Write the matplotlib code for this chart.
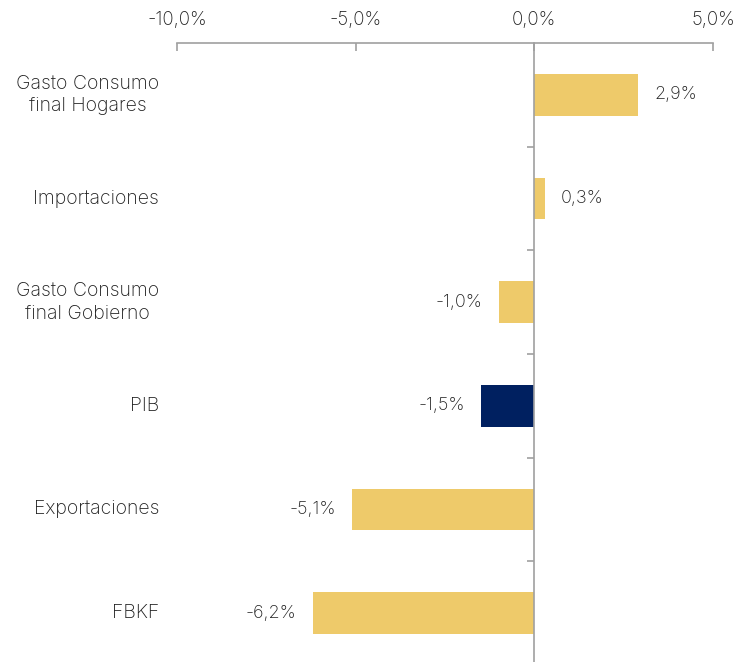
import matplotlib.pyplot as plt
import matplotlib.transforms as mtransforms
import numpy as np

# Data (top to bottom)
categories = ['Gasto Consumo\nfinal Hogares', 'Importaciones', 'Gasto Consumo\nfinal Gobierno',
              'PIB', 'Exportaciones', 'FBKF']
values = [2.9, 0.3, -1.0, -1.5, -5.1, -6.2]
highlight = 'PIB'
x_ticks = [-10, -5, 0, 5]

plt.rcParams['font.family'] = ['Inter', 'DejaVu Sans']
plt.rcParams['font.weight'] = 'light'
text_color = '#1f1f1f'
axis_color = '#a0a0a0'
yellow = '#EECA6A'
navy = '#002060'

fig = plt.figure(figsize=(7.37, 6.62), dpi=100)
ax = fig.add_axes([177 / 737, -3 / 662, 536 / 737, 622 / 662])

y = np.arange(len(categories))
colors = [navy if c == highlight else yellow for c in categories]
ax.barh(y, values, height=0.4, color=colors)

ax.set_xlim(-10, 5)
ax.set_ylim(len(categories) - 0.5, -0.5)

# value labels
for yi, v in zip(y, values):
    label = f'{v:.1f}%'.replace('.', ',')
    offset = 0.45 if v >= 0 else -0.45
    ax.text(v + offset, yi, label, ha='left' if v >= 0 else 'right', va='center',
            fontsize=13, color=text_color)

# category labels
trans = mtransforms.blended_transform_factory(ax.transAxes, ax.transData)
for yi, cat in zip(y, categories):
    ax.text(-18 / 536, yi, cat, transform=trans, ha='right', va='center',
            fontsize=14, color=text_color, multialignment='center', linespacing=1.35)

# top x axis
ax.xaxis.tick_top()
ax.set_xticks(x_ticks)
ax.set_xticklabels([f'{t:.1f}%'.replace('.', ',') for t in x_ticks], fontsize=13.5, color=text_color)
ax.tick_params(axis='x', direction='in', length=6, width=1.2, color=axis_color, pad=10)

# y axis at zero
ax.spines['left'].set_position(('data', 0))
ax.spines['left'].set_color(axis_color)
ax.spines['left'].set_linewidth(1.2)
ax.spines['top'].set_color(axis_color)
ax.spines['top'].set_linewidth(1.2)
ax.spines['right'].set_visible(False)
ax.spines['bottom'].set_visible(False)
ax.set_yticks([])
ax.set_yticks(y[:-1] + 0.5, minor=True)
ax.tick_params(axis='y', which='minor', direction='out', length=5, width=1.2, color=axis_color)
ax.set_facecolor('none')

fig.savefig('out.png', dpi=100)
